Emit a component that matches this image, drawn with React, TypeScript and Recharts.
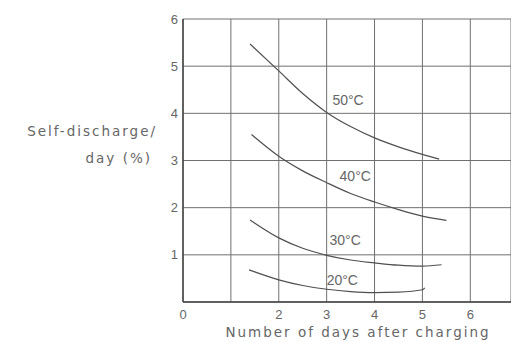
import { LineChart, Line, XAxis, YAxis, CartesianGrid, ReferenceDot } from 'recharts';

// jours apres la charge (x) et auto-decharge / jour en % (y)
const x50 = [1.4, 2, 2.5, 3, 3.5, 4, 4.5, 5, 5.35];
const y50 = [5.47, 4.9, 4.42, 4.02, 3.72, 3.48, 3.29, 3.13, 3.03];
const x40 = [1.43, 2, 2.5, 3, 3.5, 4, 4.5, 5, 5.5];
const y40 = [3.55, 3.09, 2.78, 2.53, 2.3, 2.12, 1.96, 1.82, 1.73];
const x30 = [1.4, 2, 2.5, 3, 3.5, 4, 4.5, 5, 5.4];
const y30 = [1.74, 1.36, 1.14, 0.99, 0.89, 0.83, 0.78, 0.76, 0.79];
const x20 = [1.38, 2, 2.5, 3, 3.5, 4, 4.5, 5, 5.05];
const y20 = [0.68, 0.47, 0.35, 0.27, 0.22, 0.2, 0.21, 0.26, 0.3];

const xTicks = [0, 1, 2, 3, 4, 5, 6];
const xTickLabels = ['0', '', '2', '3', '4', '5', '6'];
const yTicks = [0, 1, 2, 3, 4, 5, 6];
const yTickLabels = ['', '1', '2', '3', '4', '5', '6'];

const curveNames = ['50°C', '40°C', '30°C', '20°C'];
// position du texte de chaque courbe (en unites du graphique)
const labelX = [3.12, 3.27, 3.06, 3.0];
const labelY = [4.28, 2.68, 1.32, 0.47];

const toPoints = (xs: number[], ys: number[]) => xs.map((d, i) => ({ day: d, rate: ys[i] }));

const series = [toPoints(x50, y50), toPoints(x40, y40), toPoints(x30, y30), toPoints(x20, y20)];

const FONT = '"Liberation Sans", Arial, sans-serif';
const WIDE = '"DejaVu Sans", sans-serif';
const TXT = '#666';

export default function App() {
  return (
    <div style={{ position: 'fixed', left: 0, top: 0, background: '#fff' }}>
      <LineChart width={511} height={342} margin={{ top: 19, right: 0, bottom: 0, left: 0 }}>
        <CartesianGrid stroke="#707070" strokeWidth={1} />
        <XAxis
          type="number"
          dataKey="day"
          domain={[0, 6.85]}
          ticks={xTicks}
          tickFormatter={(v: number) => xTickLabels[xTicks.indexOf(v)] ?? ''}
          allowDataOverflow
          height={40}
          tickSize={6}
          tickLine={false}
          axisLine={{ stroke: '#444', strokeWidth: 1.5 }}
          tick={{ fill: TXT, fontSize: 13, fontFamily: FONT }}
          label={{
            content: () => (
              <text x={358} y={337} textAnchor="middle" fill={TXT} fontSize={13.5} letterSpacing={2} fontFamily={WIDE}>
                Number of days after charging
              </text>
            ),
          }}
        />
        <YAxis
          type="number"
          dataKey="rate"
          domain={[0, 6]}
          ticks={yTicks}
          tickFormatter={(v: number) => yTickLabels[yTicks.indexOf(v)] ?? ''}
          width={183}
          tickSize={3}
          tickMargin={2}
          tickLine={false}
          axisLine={{ stroke: '#444', strokeWidth: 1.5 }}
          tick={{ fill: TXT, fontSize: 13, fontFamily: FONT }}
          label={{
            content: () => (
              <text textAnchor="end" fill={TXT} fontSize={13.5} letterSpacing={2} fontFamily={WIDE}>
                <tspan x={157} y={136}>Self-discharge/</tspan>
                <tspan x={152} y={163}>day (%)</tspan>
              </text>
            ),
          }}
        />
        {series.map((pts, i) => (
          <Line
            key={curveNames[i]}
            data={pts}
            dataKey="rate"
            type="monotone"
            stroke="#505050"
            strokeWidth={1.2}
            dot={false}
            isAnimationActive={false}
          />
        ))}
        {curveNames.map((name, i) => (
          <ReferenceDot
            key={name}
            x={labelX[i]}
            y={labelY[i]}
            r={0}
            stroke="none"
            fill="none"
            label={{ value: name, position: 'right', offset: 0, fill: TXT, fontSize: 14, fontFamily: FONT }}
          />
        ))}
      </LineChart>
    </div>
  );
}
